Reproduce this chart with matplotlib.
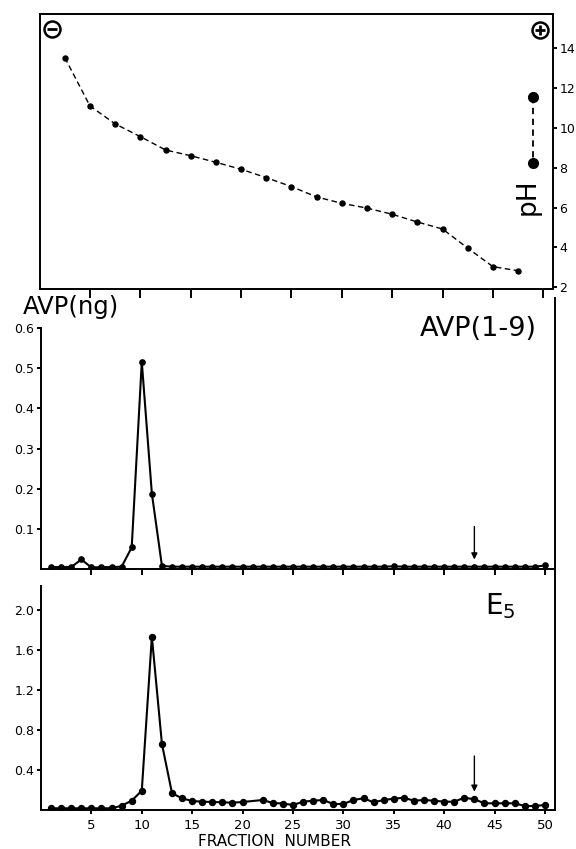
import matplotlib
matplotlib.use("Agg")
import matplotlib.pyplot as plt
from matplotlib.lines import Line2D

# ---------------- data ----------------
ph_fraction = [2.5, 5, 7.5, 10, 12.5, 15, 17.5, 20, 22.5, 25,
               27.5, 30, 32.5, 35, 37.5, 40, 42.5, 45, 47.5]
ph_values = [13.54, 11.11, 10.21, 9.57, 8.90, 8.61, 8.28, 7.93, 7.51, 7.06,
             6.54, 6.22, 5.98, 5.67, 5.28, 4.93, 3.97, 3.04, 2.83]

avp_fraction = [1, 2, 3, 4, 5, 6, 7, 8, 9, 10,
                11, 12, 13, 14, 15, 16, 17, 18, 19, 20,
                21, 22, 23, 24, 25, 26, 27, 28, 29, 30,
                31, 32, 33, 34, 35, 36, 37, 38, 39, 40,
                41, 42, 43, 44, 45, 46, 47, 48, 49, 50]
avp_values = [0.005, 0.005, 0.005, 0.024, 0.004, 0.005, 0.005, 0.006, 0.054, 0.516,
              0.188, 0.008, 0.006, 0.006, 0.006, 0.006, 0.006, 0.006, 0.006, 0.006,
              0.006, 0.006, 0.006, 0.006, 0.006, 0.006, 0.006, 0.006, 0.006, 0.006,
              0.006, 0.006, 0.006, 0.006, 0.007, 0.006, 0.006, 0.006, 0.006, 0.006,
              0.006, 0.006, 0.006, 0.006, 0.006, 0.006, 0.006, 0.006, 0.006, 0.009]

e5_fraction = [1, 2, 3, 4, 5, 6, 7, 8, 9, 10,
               11, 12, 13, 14, 15, 16, 17, 18, 19, 20,
               22, 23, 24, 25, 26, 27, 28, 29, 30,
               31, 32, 33, 34, 35, 36, 37, 38, 39, 40,
               41, 42, 43, 44, 45, 46, 47, 48, 49, 50]
e5_values = [0.017, 0.017, 0.017, 0.017, 0.017, 0.017, 0.017, 0.043, 0.093, 0.193,
             1.733, 0.66, 0.167, 0.117, 0.09, 0.083, 0.08, 0.077, 0.073, 0.08,
             0.10, 0.07, 0.065, 0.05, 0.083, 0.093, 0.10, 0.06, 0.06,
             0.10, 0.117, 0.077, 0.10, 0.113, 0.123, 0.093, 0.10, 0.093, 0.083,
             0.083, 0.123, 0.107, 0.067, 0.067, 0.067, 0.067, 0.04, 0.04, 0.05]

x_ticks = [5, 10, 15, 20, 25, 30, 35, 40, 45, 50]
ph_ticks = [2, 4, 6, 8, 10, 12, 14]
avp_ticks = [0.1, 0.2, 0.3, 0.4, 0.5, 0.6]
avp_ticklabels = ["0.1", "0.2", "0.3", "0.4", "0.5", "0.6"]
e5_ticks = [0.4, 0.8, 1.2, 1.6, 2.0]
e5_ticklabels = ["0.4", "0.8", "1.2", "1.6", "2.0"]
arrow_fraction = 43

# ---------------- layout ----------------
W, H = 576, 849
fig = plt.figure(figsize=(W / 100, H / 100), dpi=100)
plt.rcParams['font.family'] = ['DejaVu Sans']


def rect(l, t, r, b):
    return [l / W, 1 - b / H, (r - l) / W, (b - t) / H]


LW = 1.4

# ---------- top: pH gradient ----------
ax1 = fig.add_axes(rect(39.6, 14, 553.3, 289))
ax1.plot(ph_fraction, ph_values, color='k', lw=1.0, ls=(0, (4, 2.5)),
         marker='o', ms=3.6)
ax1.set_xlim(0, 51)
ax1.set_ylim(1.915, 15.73)
ax1.set_xticks(x_ticks)
ax1.set_xticklabels([])
ax1.tick_params(axis='x', direction='out', length=6.5, width=LW)
ax1.yaxis.tick_right()
ax1.set_yticks(ph_ticks)
ax1.set_yticklabels([str(v) for v in ph_ticks], fontsize=9)
ax1.tick_params(axis='y', direction='out', length=3, width=LW, pad=1.5)
for s in ax1.spines.values():
    s.set_linewidth(LW)
# legend-like pH symbol
ax1.plot([49.0, 49.0], [11.55, 8.26], color='k', lw=1.3, ls=(0, (3.5, 2.5)),
         marker='o', ms=7)
ax1.text(48.5, 6.55, "pH", rotation=90, fontsize=19, ha='center', va='center')
# electrode symbols
for xa, ya, m in [(0.0235, 0.947, '_'), (0.975, 0.942, '+')]:
    ax1.plot([xa], [ya], transform=ax1.transAxes, marker='o', ms=11.5,
             mfc='white', mec='k', mew=1.8, clip_on=False)
    ax1.plot([xa], [ya], transform=ax1.transAxes, marker=m, ms=6.5,
             mec='k', mew=2.0, clip_on=False)

# ---------- middle: AVP(1-9) ----------
ax2 = fig.add_axes(rect(41, 298, 555, 569.1))
ax2.plot(avp_fraction, avp_values, color='k', lw=1.5, marker='o', ms=3.8)
ax2.set_xlim(0, 51)
ax2.set_ylim(0, 0.675)
ax2.set_xticks(x_ticks)
ax2.set_xticklabels([])
ax2.tick_params(axis='x', direction='out', length=4.5, width=LW)
ax2.set_yticks(avp_ticks)
ax2.set_yticklabels(avp_ticklabels, fontsize=9)
ax2.tick_params(axis='y', direction='out', length=3, width=LW, pad=2)
ax2.spines['top'].set_visible(False)
ax2.spines['right'].set_visible(False)
ax2.spines['left'].set_bounds(0, 0.6)
for s in ax2.spines.values():
    s.set_linewidth(LW)
ax2.annotate('', xy=(arrow_fraction, 0.024), xytext=(arrow_fraction, 0.106),
             arrowprops=dict(arrowstyle='-|>', color='k', lw=1.0,
                             mutation_scale=9, shrinkA=0, shrinkB=0))
fig.text(23 / W, 1 - 314 / H, "AVP(ng)", fontsize=17.5, ha='left', va='baseline')
fig.text(537 / W, 1 - 336 / H, "AVP(1-9)", fontsize=19.5, ha='right', va='baseline')

# ---------- bottom: E5 ----------
ax3 = fig.add_axes(rect(41, 580, 555, 810))
ax3.plot(e5_fraction, e5_values, color='k', lw=1.5, marker='o', ms=4.3)
ax3.set_xlim(0, 51)
ax3.set_ylim(0, 2.3)
ax3.set_xticks(x_ticks)
ax3.set_xticklabels([str(v) for v in x_ticks], fontsize=9.5)
ax3.tick_params(axis='x', direction='out', length=3, width=LW, pad=3.5)
ax3.set_yticks(e5_ticks)
ax3.set_yticklabels(e5_ticklabels, fontsize=9)
ax3.tick_params(axis='y', direction='out', length=3, width=LW, pad=2)
ax3.spines['top'].set_visible(False)
ax3.spines['right'].set_visible(False)
ax3.spines['left'].set_bounds(0, 2.24)
for s in ax3.spines.values():
    s.set_linewidth(LW)
ax3.annotate('', xy=(arrow_fraction, 0.183), xytext=(arrow_fraction, 0.54),
             arrowprops=dict(arrowstyle='-|>', color='k', lw=1.0,
                             mutation_scale=9, shrinkA=0, shrinkB=0))
fig.text(485 / W, 1 - 614 / H, r"$\mathregular{E_{5}}$", fontsize=20,
         ha='left', va='baseline')
fig.text(275 / W, 1 - 842 / H, "FRACTION  NUMBER", fontsize=11,
         ha='center', va='center')

# continuous right-hand frame line of the two lower panels
fig.add_artist(Line2D([555 / W, 555 / W], [1 - 298 / H, 1 - 810 / H],
                      transform=fig.transFigure, color='k', lw=LW))

fig.savefig("out.png", dpi=100)
